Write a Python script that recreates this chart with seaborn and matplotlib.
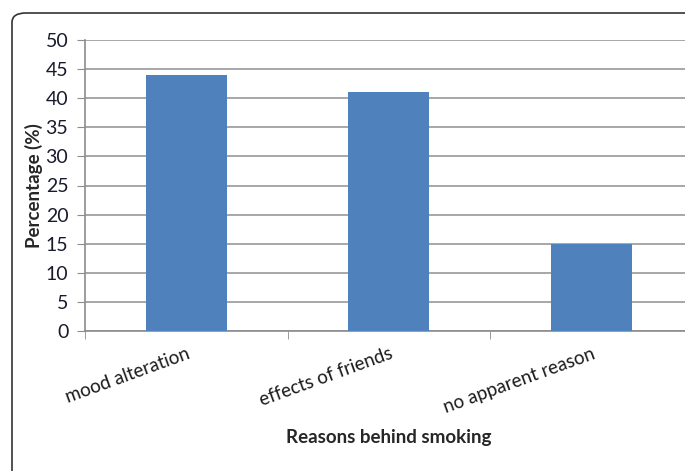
import pandas as pd
import matplotlib.pyplot as plt
import seaborn as sns
from matplotlib.patches import FancyBboxPatch

# datos
reasons = ['mood alteration', 'effects of friends', 'no apparent reason']
percent = [44, 41, 15]
yticks = [0, 5, 10, 15, 20, 25, 30, 35, 40, 45, 50]

df = pd.DataFrame({'reason': reasons, 'pct': percent})

sns.set_style('white')
plt.rcParams['font.family'] = ['Lato', 'DejaVu Sans']

fig = plt.figure(figsize=(6.85, 4.71), dpi=100)
ax = fig.add_axes([85 / 685, 1 - 331 / 471, 607.5 / 685, 291 / 471])

# marco redondeado
frame = FancyBboxPatch((12 / 685, -0.2), 1.2, 1 - 13 / 471 + 0.2,
                       boxstyle='round,pad=0,rounding_size=0.02',
                       transform=fig.transFigure, fill=False,
                       edgecolor='#333333', linewidth=1.2, zorder=-1)
fig.patches.append(frame)

sns.barplot(data=df, x='reason', y='pct', color='#4F81BD', saturation=1,
            width=0.4, ax=ax, zorder=3, linewidth=0)

ax.set_ylim(0, 50)
ax.set_xlim(-0.5, 2.5)
ax.set_yticks(yticks)
ax.yaxis.grid(True, color='#a0a0a0', linewidth=1.3)
ax.set_axisbelow(True)

for s in ['top', 'right']:
    ax.spines[s].set_visible(False)
for s in ['left', 'bottom']:
    ax.spines[s].set_color('#8c8c8c')
    ax.spines[s].set_linewidth(1.2)

ax.tick_params(axis='y', length=6, color='#8c8c8c', labelsize=14,
               labelcolor='#1a1a2e', left=True, pad=6)
ax.tick_params(axis='x', which='major', length=0, pad=10)
ax.set_xticks([-0.5, 0.5, 1.5, 2.5], minor=True)
ax.tick_params(axis='x', which='minor', length=6, color='#8c8c8c', bottom=True)

plt.setp(ax.get_xticklabels(), rotation=20, ha='right', rotation_mode='anchor',
         fontsize=13.5, color='#1a1a1a')

ax.set_xlabel('Reasons behind smoking', fontsize=13.5, fontweight='bold', labelpad=10)
ax.set_ylabel('Percentage (%)', fontsize=13.5, fontweight='bold', labelpad=2)

plt.savefig('out.png', dpi=100)
